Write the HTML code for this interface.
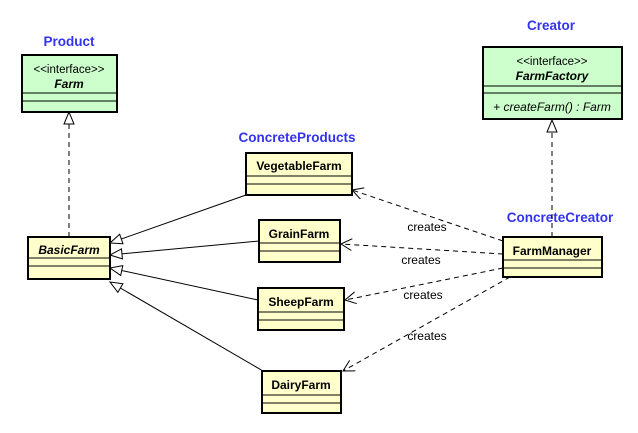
<!DOCTYPE html>
<html><head><style>body{margin:0;background:#fff}svg{display:block}</style></head><body>
<svg width="638" height="433" viewBox="0 0 638 433" font-family="Liberation Sans, sans-serif">
<defs>
<marker id="tri" markerWidth="14" markerHeight="14" refX="13" refY="6" orient="auto" markerUnits="userSpaceOnUse"><path d="M1,1 L13,6 L1,11 Z" fill="#fff" stroke="#000" stroke-width="1"/></marker>
<marker id="open" markerWidth="14" markerHeight="14" refX="12" refY="6" orient="auto" markerUnits="userSpaceOnUse"><path d="M1,0 L12,6 L1,12" fill="none" stroke="#000" stroke-width="1"/></marker>
</defs>
<g font-weight="bold" fill="#3333ee" font-size="13.5" text-anchor="middle">
<text x="69" y="46">Product</text>
<text x="297" y="142">ConcreteProducts</text>
<text x="551" y="30">Creator</text>
<text x="560" y="222">ConcreteCreator</text>
</g>
<g stroke="#000" fill="none" stroke-width="1">
<line x1="69" y1="237" x2="69" y2="112" stroke-dasharray="5,4" marker-end="url(#tri)"/>
<line x1="552" y1="237" x2="552" y2="120" stroke-dasharray="5,4" marker-end="url(#tri)"/>
<line x1="246" y1="195" x2="110" y2="243" marker-end="url(#tri)"/>
<line x1="259" y1="241" x2="110" y2="255" marker-end="url(#tri)"/>
<line x1="258" y1="300" x2="110" y2="268" marker-end="url(#tri)"/>
<line x1="263" y1="371" x2="110" y2="282" marker-end="url(#tri)"/>
<g stroke-dasharray="5,4">
<line x1="503" y1="241" x2="352" y2="190" marker-end="url(#open)"/>
<line x1="503" y1="254" x2="341" y2="244" marker-end="url(#open)"/>
<line x1="503" y1="268" x2="345" y2="300" marker-end="url(#open)"/>
<line x1="510" y1="277" x2="343" y2="371" marker-end="url(#open)"/>
</g>
</g>
<g font-size="12" fill="#000" text-anchor="middle">
<text x="427" y="231">creates</text>
<text x="421" y="264">creates</text>
<text x="423" y="299">creates</text>
<text x="427" y="340">creates</text>
</g>
<g stroke="#000" stroke-width="2">
<rect x="22" y="55" width="95" height="57" fill="#ccffcc"/>
<rect x="483" y="47" width="139" height="72" fill="#ccffcc"/>
<rect x="28" y="237" width="82" height="42" fill="#ffffcc"/>
<rect x="246" y="153" width="106" height="42" fill="#ffffcc"/>
<rect x="259" y="220" width="81" height="42" fill="#ffffcc"/>
<rect x="258" y="288" width="86" height="42" fill="#ffffcc"/>
<rect x="262" y="371" width="79" height="42" fill="#ffffcc"/>
<rect x="503" y="237" width="99" height="40" fill="#ffffcc"/>
</g>
<g stroke="#000" stroke-width="1">
<line x1="22" y1="93" x2="117" y2="93"/><line x1="22" y1="101" x2="117" y2="101"/>
<line x1="483" y1="86" x2="622" y2="86"/><line x1="483" y1="93" x2="622" y2="93"/>
<line x1="28" y1="258" x2="110" y2="258"/><line x1="28" y1="266" x2="110" y2="266"/>
<line x1="246" y1="176" x2="352" y2="176"/><line x1="246" y1="184" x2="352" y2="184"/>
<line x1="259" y1="243" x2="340" y2="243"/><line x1="259" y1="251" x2="340" y2="251"/>
<line x1="258" y1="312" x2="344" y2="312"/><line x1="258" y1="320" x2="344" y2="320"/>
<line x1="262" y1="395" x2="341" y2="395"/><line x1="262" y1="403" x2="341" y2="403"/>
<line x1="503" y1="260" x2="602" y2="260"/><line x1="503" y1="268" x2="602" y2="268"/>
</g>
<g font-size="12" fill="#000" text-anchor="middle">
<text x="69" y="73" font-size="11.5">&lt;&lt;interface&gt;&gt;</text>
<text x="69" y="88" font-weight="bold" font-style="italic">Farm</text>
<text x="552" y="65" font-size="11.5">&lt;&lt;interface&gt;&gt;</text>
<text x="552" y="80" font-weight="bold" font-style="italic">FarmFactory</text>
<text x="552" y="111" font-style="italic">+ createFarm() : Farm</text>
<text x="69" y="254" font-weight="bold" font-style="italic">BasicFarm</text>
<text x="299" y="170" font-weight="bold">VegetableFarm</text>
<text x="299" y="238" font-weight="bold">GrainFarm</text>
<text x="301" y="306" font-weight="bold">SheepFarm</text>
<text x="301" y="389" font-weight="bold">DairyFarm</text>
<text x="552" y="255" font-weight="bold">FarmManager</text>
</g>
</svg>
</body></html>
